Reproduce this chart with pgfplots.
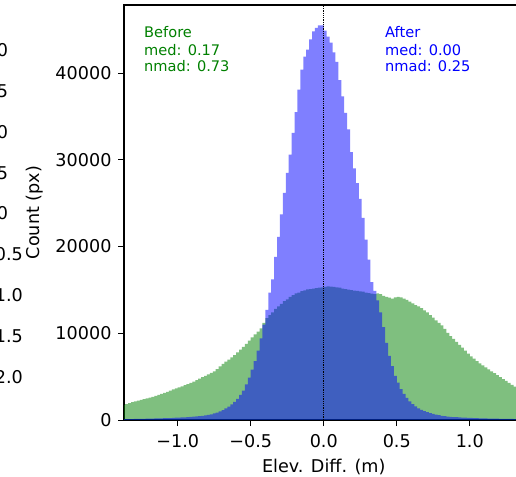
\documentclass[border=0pt]{standalone}
\usepackage{pgfplots}
\pgfplotsset{compat=1.18}
\usepackage{pgfplotstable}
\usepackage{fontspec}
\setmainfont{DejaVu Sans}
\definecolor{mplgreen}{HTML}{008000}
\definecolor{mplblue}{HTML}{0000FF}
\pgfplotstableread{
x g b
-1.38 1730 98
-1.36 1840 103
-1.34 1940 108
-1.32 2050 114
-1.30 2150 120
-1.28 2240 126
-1.26 2320 133
-1.24 2410 140
-1.22 2500 148
-1.20 2590 155
-1.18 2680 165
-1.16 2780 175
-1.14 2890 185
-1.12 3000 195
-1.10 3120 205
-1.08 3250 215
-1.06 3390 230
-1.04 3520 245
-1.02 3640 260
-1.00 3770 275
-0.98 3890 290
-0.96 4020 310
-0.94 4150 330
-0.92 4290 350
-0.90 4430 375
-0.88 4590 405
-0.86 4760 440
-0.84 4930 480
-0.82 5100 530
-0.80 5270 590
-0.78 5430 660
-0.76 5620 750
-0.74 5870 850
-0.72 6180 1000
-0.70 6470 1150
-0.68 6720 1330
-0.66 6960 1550
-0.64 7210 1800
-0.62 7480 2100
-0.60 7790 2450
-0.58 8100 2900
-0.56 8430 3400
-0.54 8780 4100
-0.52 9150 4900
-0.50 9520 5800
-0.48 9870 6800
-0.46 10200 8000
-0.44 10550 9400
-0.42 11200 11000
-0.40 11750 12700
-0.38 12100 14700
-0.36 12400 16200
-0.34 12800 18800
-0.32 13100 21100
-0.30 13400 23700
-0.28 13700 26200
-0.26 13900 28500
-0.24 14200 30600
-0.22 14400 33100
-0.20 14600 35500
-0.18 14700 38100
-0.16 14850 40400
-0.14 14950 41900
-0.12 15050 42700
-0.10 15100 43900
-0.08 15150 44800
-0.06 15200 45200
-0.04 15250 45500
-0.02 15300 45500
0.00 15350 44900
0.02 15400 44200
0.04 15380 43500
0.06 15350 42400
0.08 15300 41300
0.10 15250 39200
0.12 15150 37300
0.14 15100 35400
0.16 15020 33500
0.18 14980 30900
0.20 14920 29000
0.22 14880 27300
0.24 14840 25500
0.26 14800 23300
0.28 14700 20800
0.30 14620 18500
0.32 14560 15900
0.34 14520 14900
0.36 14600 13800
0.38 14500 12400
0.40 14300 10700
0.42 14200 8900
0.44 14100 7400
0.46 14000 6200
0.48 14150 5100
0.50 14200 4300
0.52 14150 3550
0.54 14000 3000
0.56 13850 2550
0.58 13650 2150
0.60 13450 1820
0.62 13250 1560
0.64 13100 1350
0.66 12900 1180
0.68 12650 1030
0.70 12400 900
0.72 12100 790
0.74 11800 700
0.76 11500 620
0.78 11200 550
0.80 10900 490
0.82 10500 440
0.84 10050 400
0.86 9680 370
0.88 9350 345
0.90 9000 320
0.92 8670 300
0.94 8350 280
0.96 8000 265
0.98 7660 250
1.00 7350 235
1.02 7070 220
1.04 6800 210
1.06 6520 200
1.08 6300 190
1.10 6080 180
1.12 5850 170
1.14 5620 162
1.16 5400 155
1.18 5180 148
1.20 4950 141
1.22 4720 135
1.24 4500 129
1.26 4270 123
1.28 4040 118
1.30 3850 113
1.32 3700 108
1.34 3550 104
1.36 3400 100
1.38 3400 100
}\hist

\begin{document}
\begin{tikzpicture}[font=\fontsize{17.6bp}{21bp}\selectfont]
\begin{axis}[
  at={(124bp,57bp)}, anchor=south west,
  scale only axis, width=399.5bp, height=415bp,
  xmin=-1.368, xmax=1.368, ymin=0, ymax=47850,
  xtick={-1,-0.5,0,0.5,1}, xticklabels={−1.0,−0.5,0.0,0.5,1.0},
  ytick={0,10000,20000,30000,40000}, yticklabels={0,10000,20000,30000,40000},
  scaled y ticks=false,
  tick pos=left, tick align=outside, major tick length=6bp,
  tick style={black, line width=1bp},
  axis line style={black, line width=1.1bp},
  every axis x label/.style={at={(axis description cs:0.5,-0.1277)}, anchor=base},
  every axis y label/.style={at={(axis description cs:-0.2103,0.5)}, anchor=base, rotate=90},
  xlabel={Elev. Diff. (m)}, ylabel={Count (px)},
  xticklabel style={anchor=base, yshift=-21bp},
  yticklabel style={xshift=-3bp},
]
\addplot[const plot, draw=none, fill=mplgreen, fill opacity=0.5] table[x=x, y=g] {\hist} \closedcycle;
\addplot[const plot, draw=none, fill=mplblue, fill opacity=0.5] table[x=x, y=b] {\hist} \closedcycle;
\addplot[black, densely dotted, line width=0.8bp] coordinates {(0,0) (0,47850)};
\node[anchor=base west, inner sep=0, text=mplgreen, font=\fontsize{14.6bp}{17bp}\selectfont] at (rel axis cs:0.0501,0.9205) {Before};
\node[anchor=base west, inner sep=0, text=mplgreen, font=\fontsize{14.6bp}{17bp}\selectfont] at (rel axis cs:0.0501,0.8795) {med: 0.17};
\node[anchor=base west, inner sep=0, text=mplgreen, font=\fontsize{14.6bp}{17bp}\selectfont] at (rel axis cs:0.0501,0.8386) {nmad: 0.73};
\node[anchor=base west, inner sep=0, text=mplblue, font=\fontsize{14.6bp}{17bp}\selectfont] at (rel axis cs:0.6533,0.9205) {After};
\node[anchor=base west, inner sep=0, text=mplblue, font=\fontsize{14.6bp}{17bp}\selectfont] at (rel axis cs:0.6533,0.8795) {med: 0.00};
\node[anchor=base west, inner sep=0, text=mplblue, font=\fontsize{14.6bp}{17bp}\selectfont] at (rel axis cs:0.6533,0.8386) {nmad: 0.25};
\end{axis}
\node[anchor=west, inner sep=0] at (-20bp,427bp) {2.0};
\node[anchor=west, inner sep=0] at (-20bp,386bp) {1.5};
\node[anchor=west, inner sep=0] at (-20bp,345bp) {1.0};
\node[anchor=west, inner sep=0] at (-20bp,304bp) {0.5};
\node[anchor=west, inner sep=0] at (-20bp,264bp) {0.0};
\node[anchor=west, inner sep=0] at (-20bp,223bp) {−0.5};
\node[anchor=west, inner sep=0] at (-20bp,182bp) {−1.0};
\node[anchor=west, inner sep=0] at (-20bp,141bp) {−1.5};
\node[anchor=west, inner sep=0] at (-20bp,100bp) {−2.0};
\pgfresetboundingbox
\path[use as bounding box] (0,0) rectangle (516bp,477bp);
\end{tikzpicture}
\end{document}
